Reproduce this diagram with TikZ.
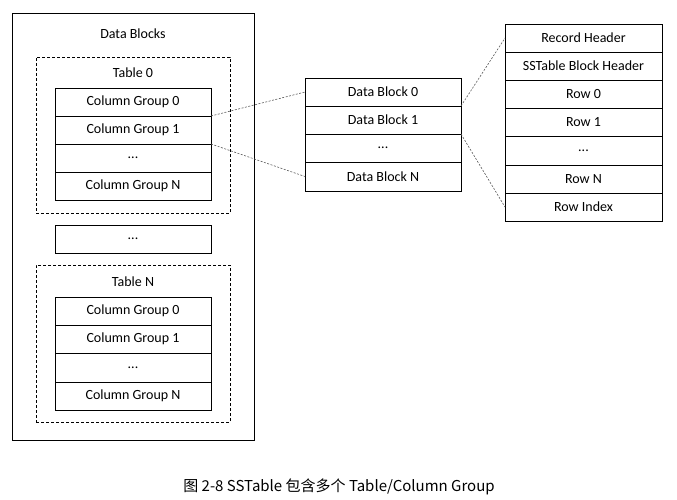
\documentclass[tikz,border=0pt]{standalone}
\usepackage{fontspec}
\setmainfont{Carlito}
\newfontfamily\cjk{Noto Sans CJK SC}
\begin{document}
\begin{tikzpicture}[%
    x=1pt, y=-1pt,
    writing/.style={%
      font=\fontsize{14}{16}\selectfont  % calibri-like writing
    },
    cell/.style={%
      rectangle,          % plain box
      draw,               % black outside edge
      line width=0.8pt,   % thin line
      minimum width=156pt,
      minimum height=28pt,
      inner sep=0pt,
      outer sep=0pt,
      writing             % writing style above
    },
    frame/.style={%
      rectangle,
      draw,
      line width=0.8pt,
      inner sep=0pt
    },
    table/.style={%
      frame,
      dash pattern=on 3pt off 2pt  % dashed edge
    },
    connection/.style={%
      draw=black!65,                % grey line
      line width=0.6pt,
      dash pattern=on 2pt off 1.5pt % fine dashes
    }
]
    \useasboundingbox (0,0) rectangle (677,500);

    % outer frame
    \node at (133,226.5) [frame, minimum width=242pt, minimum height=427pt] (data blocks) {};
    \node at (133,34)   [writing] (data blocks title) {Data Blocks};

    % table 0
    \node at (133,135)  [table, minimum width=194pt, minimum height=156pt] (table 0) {};
    \node at (133,73)   [writing] (table 0 title) {Table 0};
    \node at (133,102)  [cell] (cg00) {Column Group 0};
    \node at (133,130)  [cell] (cg01) {Column Group 1};
    \node at (133,158)  [cell] (cg0d) {...};
    \node at (133,186)  [cell] (cg0n) {Column Group N};

    % tables in between
    \node at (133,239)  [cell] (tables) {...};

    % table N
    \node at (133,343.5) [table, minimum width=194pt, minimum height=157pt] (table n) {};
    \node at (133,282)  [writing] (table n title) {Table N};
    \node at (133,311)    [cell] (cgn0) {Column Group 0};
    \node at (133,339.25) [cell, minimum height=28.5pt] (cgn1) {Column Group 1};
    \node at (133,367.75) [cell, minimum height=28.5pt] (cgnd) {...};
    \node at (133,396)    [cell] (cgnn) {Column Group N};

    % data blocks
    \node at (383,92)   [cell] (db0) {Data Block 0};
    \node at (383,120)  [cell] (db1) {Data Block 1};
    \node at (383,148)  [cell] (dbd) {...};
    \node at (383,176.5) [cell, minimum height=29pt] (dbn) {Data Block N};

    % one data block
    \node at (583.5,38)    [cell, minimum width=157pt] (record header) {Record Header};
    \node at (583.5,66)    [cell, minimum width=157pt] (block header)  {SSTable Block Header};
    \node at (583.5,94)    [cell, minimum width=157pt] (row 0)         {Row 0};
    \node at (583.5,122)   [cell, minimum width=157pt] (row 1)         {Row 1};
    \node at (583.5,150.5) [cell, minimum width=157pt, minimum height=29pt] (row dots) {...};
    \node at (583.5,179)   [cell, minimum width=157pt] (row n)         {Row N};
    \node at (583.5,207)   [cell, minimum width=157pt] (row index)     {Row Index};

    % connections
    \draw[connection] (cg00.south east) -- (db0.west);
    \draw[connection] (cg01.south east) -- (dbn.west);
    \draw[connection] (db0.south east)  -- (record header.west);
    \draw[connection] (db1.south east)  -- (row index.west);

    % caption
    \node at (339,487) [font=\cjk\fontsize{15}{17}\selectfont] (caption)
      {图 2-8 SSTable 包含多个 Table/Column Group};

\end{tikzpicture}
\end{document}
